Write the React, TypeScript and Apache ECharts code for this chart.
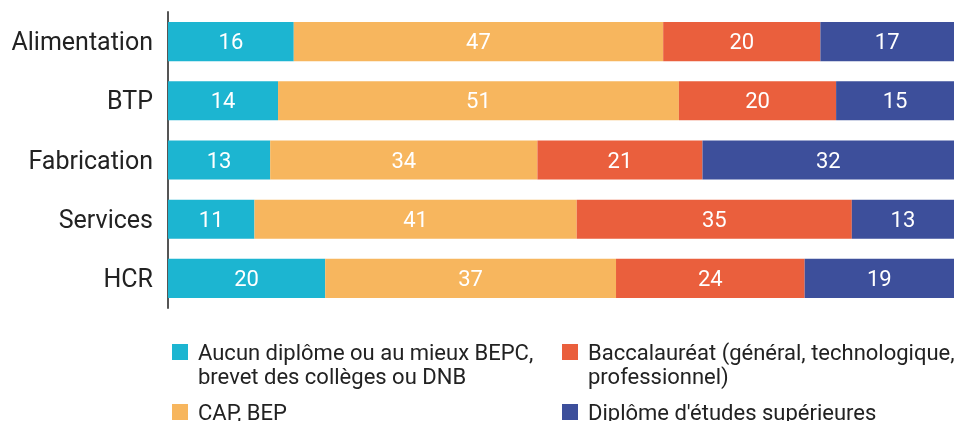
import React, { useEffect, useRef } from "react";
import * as echarts from "echarts";

const categories = ["Alimentation", "BTP", "Fabrication", "Services", "HCR"];
const seriesNames = [
  "Aucun diplôme ou au mieux BEPC,\nbrevet des collèges ou DNB",
  "CAP, BEP",
  "Baccalauréat (général, technologique,\nprofessionnel)",
  "Diplôme d'études supérieures",
];
const aucun = [16, 14, 13, 11, 20];
const cap = [47, 51, 34, 41, 37];
const bac = [20, 20, 21, 35, 24];
const sup = [17, 15, 32, 13, 19];
const colors = ["#1cb5d1", "#f7b65e", "#ea5f3d", "#3d4f9b"];

const FONT = "Roboto";

// square at top of a taller icon box so it lines up with the first text line
const TALL_ICON = "path://M0,0H16V16H0Z M0,40H16";

export default function App() {
  const ref = useRef<HTMLDivElement>(null);
  useEffect(() => {
    if (!ref.current) return;
    const chart = echarts.init(ref.current, undefined, { renderer: "svg" });
    const values = [aucun, cap, bac, sup];
    const legendPos = [
      { left: 172, top: 340, multi: true },
      { left: 172, top: 400, multi: false },
      { left: 562, top: 340, multi: true },
      { left: 562, top: 400, multi: false },
    ];
    chart.setOption({
      animation: false,
      textStyle: { fontFamily: FONT },
      grid: { left: 168, right: 11, top: 12, bottom: 113, containLabel: false },
      xAxis: {
        type: "value",
        min: 0,
        max: 100,
        show: false,
      },
      yAxis: {
        type: "category",
        data: categories,
        inverse: true,
        axisLine: { show: true, lineStyle: { color: "#555", width: 2 } },
        axisTick: { show: false },
        axisLabel: { fontSize: 25, color: "#222", margin: 15, fontFamily: FONT },
      },
      legend: legendPos.map((p, i) => ({
        data: [seriesNames[i]],
        left: p.left,
        top: p.top,
        padding: 0,
        itemWidth: 16,
        itemHeight: p.multi ? 40 : 16,
        icon: p.multi ? TALL_ICON : "rect",
        selectedMode: false,
        textStyle: {
          fontSize: 22,
          lineHeight: 24,
          color: "#222",
          fontFamily: FONT,
          padding: [0, 0, 0, 5],
        },
      })),
      series: values.map((v, i) => ({
        type: "bar",
        name: seriesNames[i],
        stack: "total",
        data: v,
        barCategoryGap: "34%",
        itemStyle: { color: colors[i] },
        label: {
          show: true,
          position: "inside",
          color: "#fff",
          fontSize: 22,
          fontFamily: FONT,
        },
      })),
    });
    return () => chart.dispose();
  }, []);
  return (
    <div
      ref={ref}
      style={{ position: "fixed", left: 0, top: 0, width: 965, height: 421 }}
    />
  );
}
